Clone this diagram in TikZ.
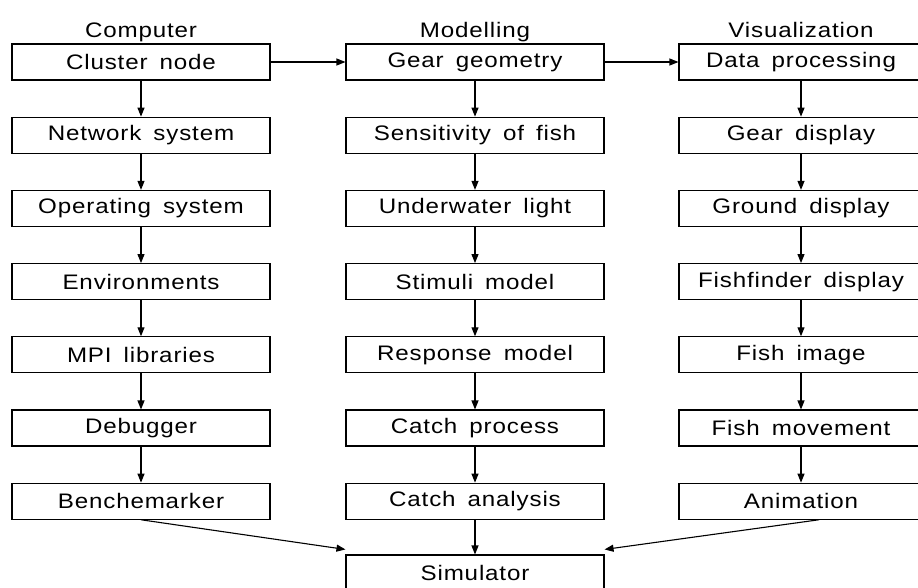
\documentclass[tikz,border=0pt]{standalone}
\usepackage{fontspec}
\setmainfont{Liberation Sans}[FakeStretch=1.15,LetterSpace=4,WordSpace=1.6]
\usetikzlibrary{arrows.meta}

\tikzset{
  blockbox/.style={draw, line width=1.1pt, minimum height=36pt, inner sep=0pt,
                   font=\fontsize{21}{24}\selectfont},
  colbox/.style={blockbox, minimum width=258pt},
  viscol/.style={blockbox, minimum width=244pt},
  heading/.style={anchor=base, inner sep=0pt, font=\fontsize{21}{24}\selectfont},
  arr/.style={line width=1.1pt, -{Triangle[length=9pt,width=7pt]}}
}

\begin{document}
\begin{tikzpicture}[x=1pt,y=-1pt]
  \useasboundingbox (0,0) rectangle (918,587);

  % column headings
  \node[heading] (hc) at (141,37) {Computer};
  \node[heading] (hm) at (475,37) {Modelling};
  \node[heading] (hv) at (801,37) {Visualization};

  % three columns of steps
  \foreach \t [count=\i] in {Cluster node, Network system, Operating system,
      Environments, MPI libraries, Debugger, Benchemarker}
    \node[colbox] (c\i) at (141,{62+73.2*(\i-1)}) {\t};
  \foreach \t [count=\i] in {Gear geometry, Sensitivity of fish, Underwater light,
      Stimuli model, Response model, Catch process, Catch analysis}
    \node[colbox] (m\i) at (475,{62+73.2*(\i-1)}) {\t};
  \foreach \t [count=\i] in {Data processing, Gear display, Ground display,
      Fishfinder display, Fish image, Fish movement, Animation}
    \node[viscol] (v\i) at (801,{62+73.2*(\i-1)}) {\t};

  \node[colbox] (sim) at (475,573) {Simulator};

  % vertical flow inside each column
  \foreach \i/\j in {1/2,2/3,3/4,4/5,5/6,6/7} {
    \draw[arr] (c\i) -- (c\j);
    \draw[arr] (m\i) -- (m\j);
    \draw[arr] (v\i) -- (v\j);
  }

  % links between the columns
  \draw[arr] (c1) -- (m1);
  \draw[arr] (m1) -- (v1);

  % everything joins in the simulator
  \draw[arr] (c7.south) -- ([yshift=5pt]sim.north west);
  \draw[arr] (m7) -- (sim);
  \draw[arr] ([xshift=18pt]v7.south) -- ([yshift=5pt]sim.north east);
\end{tikzpicture}
\end{document}
